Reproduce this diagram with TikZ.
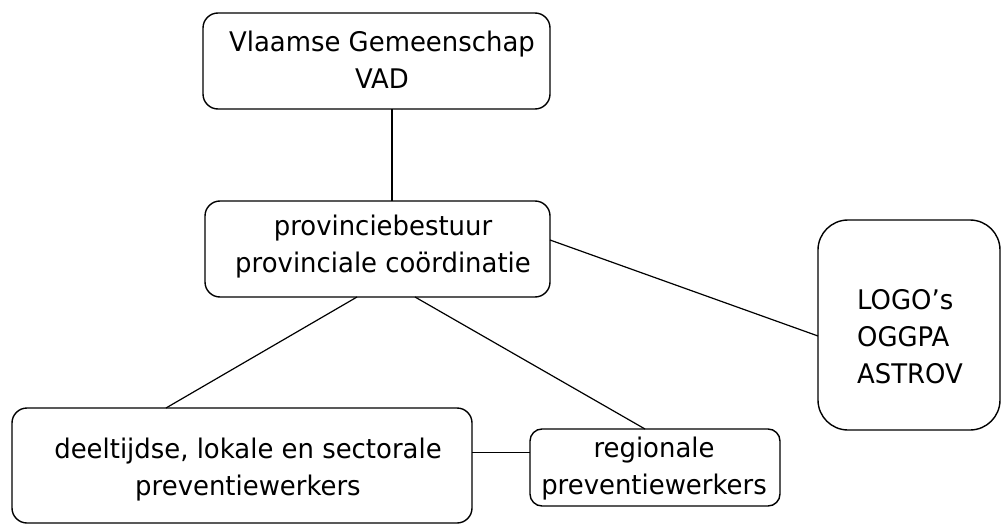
\documentclass[tikz,border=0pt]{standalone}
\usepackage{fontspec}
\setmainfont{DejaVu Sans}[FakeStretch=0.96]
\begin{document}
\begin{tikzpicture}[x=1pt,y=-1pt,
  box/.style={draw=black,line width=1.4pt,rounded corners=#1,inner sep=0pt,outer sep=0pt,rectangle},
  box/.default=15pt,
  txt/.style={inner sep=0pt,align=center,font=\fontsize{27}{37}\selectfont},
  link/.style={draw=black,line width=1.2pt}]
\useasboundingbox (0,0) rectangle (1001,524);
% boxes
\node[box,minimum width=347pt,minimum height=96pt] (b1) at (376.5,61) {};
\node[box,minimum width=345pt,minimum height=96pt] (b2) at (377.5,249) {};
\node[box=30pt,minimum width=182pt,minimum height=210pt] (b3) at (909,325) {};
\node[box,minimum width=460pt,minimum height=115pt] (b4) at (242,465.5) {};
\node[box=12pt,minimum width=250pt,minimum height=77pt] (b5) at (655,467.5) {};
% texts
\node[txt] (t1) at (382,59.75) {Vlaamse Gemeenschap\\VAD};
\node[txt] (t2) at (383,247) {provinciebestuur\\provinciale coördinatie};
\node[txt,align=left] (t3) at (910,337) {LOGO’s\\OGGPA\\ASTROV};
\node[txt] (t4) at (248,470) {deeltijdse, lokale en sectorale\\preventiewerkers};
\node[txt] (t5) at (654,468.5) {regionale\\preventiewerkers};
% connectors
\draw[link] ([xshift=15.5pt]b1.south) -- ([xshift=14.5pt]b2.north);
\draw[link] ([xshift=-20.5pt]b2.south) -- ([xshift=-76pt]b4.north);
\draw[link] ([xshift=37.5pt]b2.south) -- ([xshift=-10pt]b5.north);
\draw[link] ([yshift=9pt]b2.east) -- ([yshift=-11pt]b3.west);
\draw[link] ([yshift=13pt]b4.east) -- ([yshift=15pt]b5.west);
\end{tikzpicture}
\end{document}
